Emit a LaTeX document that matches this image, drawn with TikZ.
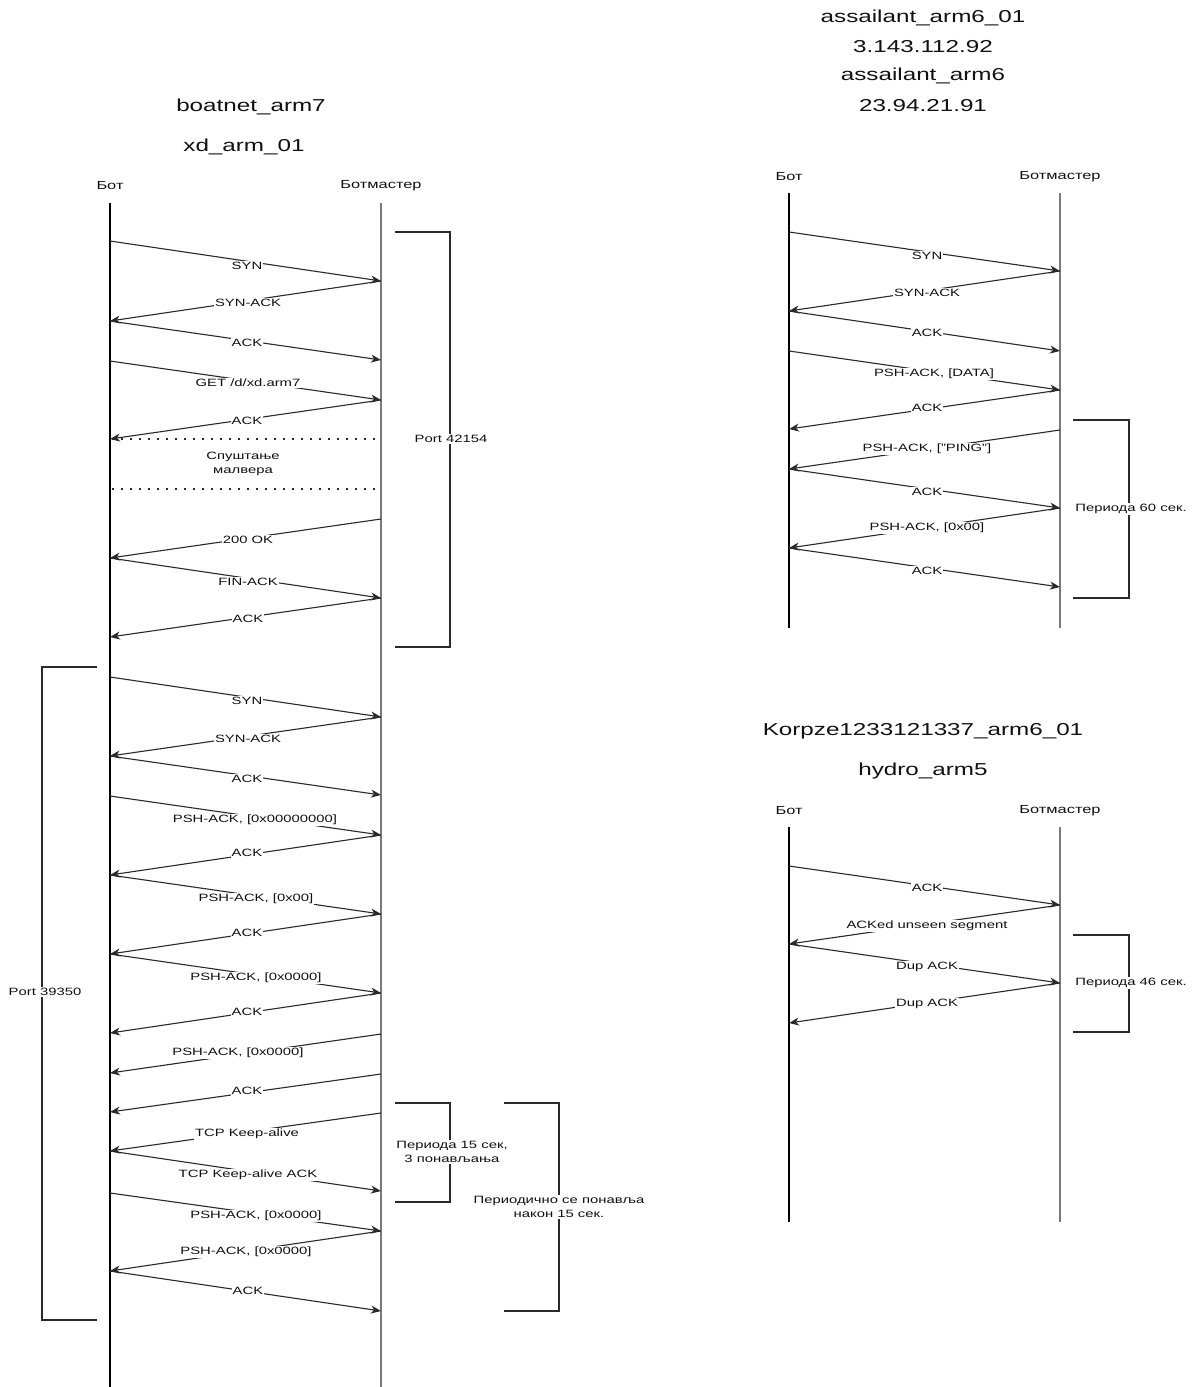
\documentclass[tikz,border=0pt]{standalone}
\usepackage{fontspec}
\setmainfont{Liberation Sans}[FakeStretch=1.4]
\usetikzlibrary{arrows.meta}
\definecolor{ln}{HTML}{2A2A2A}
\definecolor{lifegray}{HTML}{7A7A7A}
\definecolor{txt}{HTML}{111111}
\tikzset{
  msg/.style={draw=ln, line width=1.1pt, -{Stealth[length=10pt,width=8pt,inset=3pt]}},
  lbl/.style={fill=white, inner sep=1pt, text=txt, font=\fontsize{10.6}{14}\selectfont, align=center},
  note/.style={fill=white, inner sep=1pt, text=txt, font=\fontsize{10.6}{14}\selectfont, align=center},
  head/.style={inner sep=0pt, text=txt, font=\fontsize{11.7}{14}\selectfont},
  title/.style={inner sep=0pt, text=txt, font=\fontsize{17.3}{20}\selectfont},
  botline/.style={draw=black, line width=1.8pt},
  bmline/.style={draw=lifegray, line width=2.8pt},
  bracket/.style={draw=ln, line width=1.4pt},
  dots/.style={draw=ln, line width=1.8pt, dash pattern=on 1.8pt off 7.2pt}
}
% name, x1, y1, x2, y2, label, label position
\newcommand\sqmsg[7]{%
  \coordinate (#1a) at (#2,#3);
  \coordinate (#1b) at (#4,#5);
  \draw[msg] (#1a) -- (#1b);
  \node[lbl] (#1l) at (#7) {#6};}
\begin{document}
\begin{tikzpicture}[x=1pt,y=-1pt]
\fill[white] (0,0) rectangle (1196,1387);
\useasboundingbox (0,0) rectangle (1196,1387);

% ---------------- left diagram ----------------
\node[title] (t1) at (251,107) {boatnet\_arm7};
\node[title] (t2) at (244,147) {xd\_arm\_01};
\node[head] (hb1) at (110,186) {Бот};
\node[head] (hm1) at (381,186) {Ботмастер};
\coordinate (b1top) at (110,203); \coordinate (b1bot) at (110,1387);
\coordinate (m1top) at (381,203); \coordinate (m1bot) at (381,1387);
\draw[botline] (b1top) -- (b1bot);
\draw[bmline] (m1top) -- (m1bot);

\sqmsg{a1}{110}{241}{381}{281}{SYN}{247,266}
\sqmsg{a2}{381}{281}{110}{321}{SYN-ACK}{248,303}
\sqmsg{a3}{110}{321}{381}{360}{ACK}{247,343}
\sqmsg{a4}{110}{361}{381}{400}{GET /d/xd.arm7}{248,383}
\sqmsg{a5}{381}{400}{110}{439}{ACK}{247,421}
\coordinate (d1a) at (112,439); \coordinate (d1b) at (375,439);
\coordinate (d2a) at (112,489); \coordinate (d2b) at (375,489);
\draw[dots] (d1a) -- (d1b);
\draw[dots] (d2a) -- (d2b);
\node[note] (mal) at (243,464) {Спуштање\\малвера};
\sqmsg{a6}{381}{519}{110}{558}{200 OK}{248,540}
\sqmsg{a7}{110}{558}{381}{598}{FIN-ACK}{248,582}
\sqmsg{a8}{381}{598}{110}{637}{ACK}{248,619}

\coordinate (p1a) at (395,232); \coordinate (p1b) at (450,232);
\coordinate (p1c) at (450,647); \coordinate (p1d) at (395,647);
\draw[bracket] (p1a) -- (p1b) -- (p1c) -- (p1d);
\node[note] (port1) at (451,439) {Port 42154};

\coordinate (p2a) at (97,667); \coordinate (p2b) at (42,667);
\coordinate (p2c) at (42,1320); \coordinate (p2d) at (97,1320);
\draw[bracket] (p2a) -- (p2b) -- (p2c) -- (p2d);
\node[note] (port2) at (45,992) {Port 39350};

\sqmsg{c1}{110}{677}{381}{717}{SYN}{247,701}
\sqmsg{c2}{381}{717}{110}{756}{SYN-ACK}{248,739}
\sqmsg{c3}{110}{756}{381}{795}{ACK}{247,779}
\sqmsg{c4}{110}{796}{381}{835}{PSH-ACK, [0x00000000]}{255,820}
\sqmsg{c5}{381}{835}{110}{875}{ACK}{247,853}
\sqmsg{c6}{110}{875}{381}{914}{PSH-ACK, [0x00]}{256,899}
\sqmsg{c7}{381}{914}{110}{954}{ACK}{247,933}
\sqmsg{c8}{110}{954}{381}{993}{PSH-ACK, [0x0000]}{256,978}
\sqmsg{c9}{381}{993}{110}{1033}{ACK}{247,1012}
\sqmsg{c10}{381}{1034}{110}{1073}{PSH-ACK, [0x0000]}{238,1053}
\sqmsg{c11}{381}{1074}{110}{1112}{ACK}{247,1091}
\sqmsg{c12}{381}{1113}{110}{1151}{TCP Keep-alive}{247,1134}
\sqmsg{c13}{110}{1151}{381}{1191}{TCP Keep-alive ACK}{248,1175}
\sqmsg{c14}{110}{1193}{381}{1231}{PSH-ACK, [0x0000]}{256,1216}
\sqmsg{c15}{381}{1231}{110}{1271}{PSH-ACK, [0x0000]}{246,1252}
\sqmsg{c16}{110}{1271}{381}{1311}{ACK}{248,1291}

\coordinate (p3a) at (395,1103); \coordinate (p3b) at (450,1103);
\coordinate (p3c) at (450,1202); \coordinate (p3d) at (395,1202);
\draw[bracket] (p3a) -- (p3b) -- (p3c) -- (p3d);
\node[note] (per15) at (452,1152) {Периода 15 сек,\\3 понављања};

\coordinate (p4a) at (504,1103); \coordinate (p4b) at (559,1103);
\coordinate (p4c) at (559,1311); \coordinate (p4d) at (504,1311);
\draw[bracket] (p4a) -- (p4b) -- (p4c) -- (p4d);
\node[note] (perrep) at (559,1207) {Периодично се понавља\\након 15 сек.};

% ---------------- right top diagram ----------------
\node[title] (t3) at (923,18) {assailant\_arm6\_01};
\node[title] (t4) at (923,47) {3.143.112.92};
\node[title] (t5) at (923,76) {assailant\_arm6};
\node[title] (t6) at (923,106) {23.94.21.91};
\node[head] (hb2) at (789,177) {Бот};
\node[head] (hm2) at (1060,177) {Ботмастер};
\coordinate (b2top) at (789,193); \coordinate (b2bot) at (789,628);
\coordinate (m2top) at (1060,193); \coordinate (m2bot) at (1060,628);
\draw[botline] (b2top) -- (b2bot);
\draw[bmline] (m2top) -- (m2bot);

\sqmsg{r1}{789}{232}{1060}{271}{SYN}{927,256}
\sqmsg{r2}{1060}{271}{789}{311}{SYN-ACK}{927,293}
\sqmsg{r3}{789}{311}{1060}{351}{ACK}{927,333}
\sqmsg{r4}{789}{351}{1060}{390}{PSH-ACK, [DATA]}{934,374}
\sqmsg{r5}{1060}{390}{789}{429}{ACK}{927,408}
\sqmsg{r6}{1060}{430}{789}{469}{PSH-ACK, ["PING"]}{927,449}
\sqmsg{r7}{789}{469}{1060}{508}{ACK}{927,492}
\sqmsg{r8}{1060}{508}{789}{548}{PSH-ACK, [0x00]}{927,528}
\sqmsg{r9}{789}{548}{1060}{587}{ACK}{927,571}

\coordinate (p5a) at (1073,420); \coordinate (p5b) at (1129,420);
\coordinate (p5c) at (1129,598); \coordinate (p5d) at (1073,598);
\draw[bracket] (p5a) -- (p5b) -- (p5c) -- (p5d);
\node[note] (per60) at (1131,509) {Периода 60 сек.};

% ---------------- right bottom diagram ----------------
\node[title] (t7) at (923,731) {Korpze1233121337\_arm6\_01};
\node[title] (t8) at (923,771) {hydro\_arm5};
\node[head] (hb3) at (789,811) {Бот};
\node[head] (hm3) at (1060,811) {Ботмастер};
\coordinate (b3top) at (789,827); \coordinate (b3bot) at (789,1222);
\coordinate (m3top) at (1060,827); \coordinate (m3bot) at (1060,1222);
\draw[botline] (b3top) -- (b3bot);
\draw[bmline] (m3top) -- (m3bot);

\sqmsg{s1}{789}{866}{1060}{905}{ACK}{927,888}
\sqmsg{s2}{1060}{905}{789}{944}{ACKed unseen segment}{927,926}
\sqmsg{s3}{789}{944}{1060}{983}{Dup ACK}{927,967}
\sqmsg{s4}{1060}{983}{789}{1023}{Dup ACK}{927,1004}

\coordinate (p6a) at (1073,935); \coordinate (p6b) at (1129,935);
\coordinate (p6c) at (1129,1032); \coordinate (p6d) at (1073,1032);
\draw[bracket] (p6a) -- (p6b) -- (p6c) -- (p6d);
\node[note] (per46) at (1131,983) {Периода 46 сек.};
\end{tikzpicture}
\end{document}
